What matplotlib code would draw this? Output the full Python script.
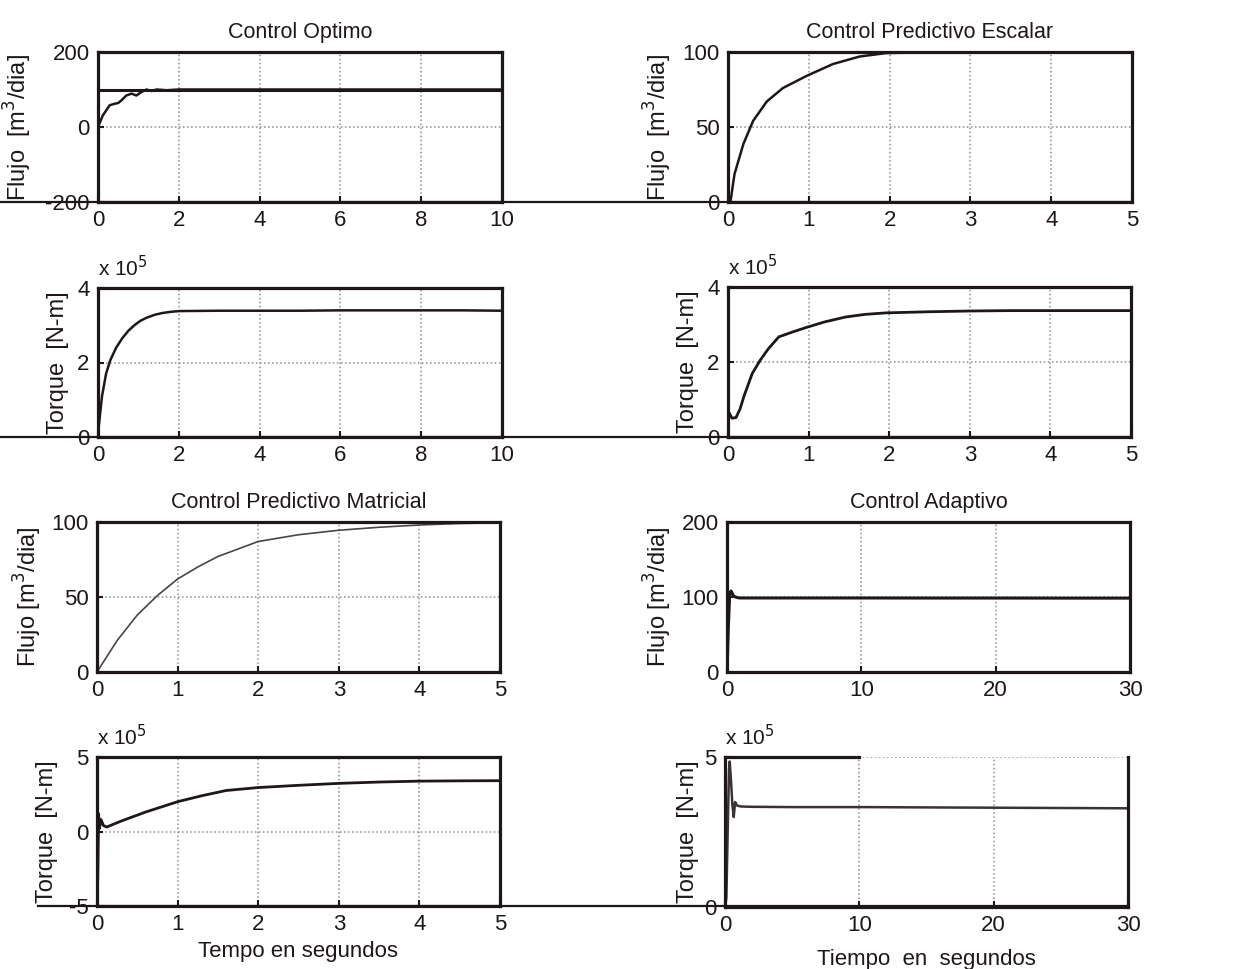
import matplotlib
matplotlib.use("Agg")
import matplotlib.pyplot as plt
from matplotlib.lines import Line2D

plt.rcParams["font.family"] = ["Liberation Sans", "DejaVu Sans"]

INK = "#1e1719"

# Control Optimo - flujo
t_opt_f = [0, 0.12, 0.29, 0.41, 0.5, 0.58, 0.7, 0.83, 0.95, 1.07, 1.2, 1.32, 1.45, 1.7, 2, 3, 4, 5, 6, 7, 8, 9, 10]
y_opt_f = [0, 31, 58, 62, 64, 71, 84, 89, 84, 93, 100, 96, 100, 98, 100, 100, 100, 100, 100, 100, 100, 100, 100]
ref_opt = [100, 100]
# Control Optimo - torque (x 10^5)
t_opt_t = [0, 0.05, 0.1, 0.2, 0.3, 0.45, 0.6, 0.75, 0.9, 1.05, 1.2, 1.4, 1.6, 1.8, 2, 3, 4, 5, 6, 7, 8, 9, 10]
y_opt_t = [0.1, 0.6, 1.1, 1.7, 2.05, 2.4, 2.65, 2.85, 3.0, 3.12, 3.2, 3.28, 3.33, 3.36, 3.38, 3.39, 3.39, 3.39, 3.4, 3.4, 3.4, 3.4, 3.39]

# Control Predictivo Escalar
t_esc_f = [0.03, 0.08, 0.19, 0.31, 0.48, 0.68, 0.97, 1.3, 1.63, 1.96, 2.5, 3, 4, 5]
y_esc_f = [0, 18.5, 38.6, 54, 67, 76, 84, 92, 97, 99.3, 99.8, 100, 100, 100]
t_esc_t = [0, 0.05, 0.1, 0.15, 0.2, 0.3, 0.4, 0.5, 0.63, 0.8, 0.97, 1.2, 1.46, 1.7, 1.96, 2.5, 3, 3.5, 4, 4.5, 5]
y_esc_t = [0.7, 0.5, 0.52, 0.75, 1.1, 1.69, 2.05, 2.35, 2.67, 2.8, 2.92, 3.07, 3.2, 3.27, 3.31, 3.34, 3.36, 3.37, 3.37, 3.37, 3.37]

# Control Predictivo Matricial
t_mat_f = [0, 0.25, 0.5, 0.75, 1, 1.25, 1.5, 1.75, 2, 2.5, 3, 3.5, 4, 4.5, 5]
y_mat_f = [0, 21, 38, 51, 62, 70, 77, 82, 87, 91.5, 94.5, 96.5, 98, 99, 99.5]
t_mat_t = [0, 0.01, 0.02, 0.03, 0.05, 0.08, 0.12, 0.3, 0.6, 1, 1.3, 1.6, 2, 2.5, 3, 3.5, 4, 4.5, 5]
y_mat_t = [-5, -3, 1.2, 0.2, 0.8, 0.4, 0.3, 0.7, 1.3, 2.0, 2.4, 2.75, 2.95, 3.1, 3.23, 3.32, 3.38, 3.4, 3.41]

# Control Adaptivo
t_ada_f = [0, 0.1, 0.2, 0.3, 0.5, 0.8, 1, 2, 5, 10, 15, 20, 25, 30]
y_ada_f = [0, 60, 104, 108, 101, 99, 98.7, 98.7, 98.7, 98.7, 98.6, 98.6, 98.5, 98.5]
t_ada_t = [0, 0.1, 0.2, 0.3, 0.35, 0.45, 0.55, 0.65, 0.75, 0.9, 1.2, 2, 5, 10, 15, 20, 25, 30]
y_ada_t = [0, 0.3, 2.5, 4.6, 4.85, 4.2, 3.4, 3.0, 3.5, 3.38, 3.35, 3.34, 3.33, 3.33, 3.32, 3.31, 3.3, 3.29]

fig = plt.figure(figsize=(12.41, 9.69), dpi=100)

W, H = 1241, 969


def make_ax(x0, x1, ytop, ybot):
    return fig.add_axes([x0 / W, 1 - ybot / H, (x1 - x0) / W, (ybot - ytop) / H])


def style(ax, xlim, xticks, ylim, yticks, ylabel, ylab_px, sci=False):
    ax.set_xlim(xlim)
    ax.set_ylim(ylim)
    ax.set_xticks(xticks)
    ax.set_yticks(yticks)
    ax.set_xticklabels([f"{v:g}" for v in xticks])
    ax.set_yticklabels([f"{v:g}" for v in yticks])
    ax.grid(True, linestyle=":", color="#8c8c8c", linewidth=1.1)
    ax.tick_params(direction="in", length=4, width=1.5, colors=INK,
                   labelsize=16, pad=6)
    for s in ax.spines.values():
        s.set_linewidth(2.3)
        s.set_color(INK)
    ax.set_ylabel(ylabel, fontsize=17, color=INK)
    # right edge of the rotated label, in figure pixels
    x0 = ax.get_position().x0 * W
    w = ax.get_position().width * W
    ax.yaxis.set_label_coords((ylab_px - x0) / w, 0.5)
    if sci:
        ax.text(0.0, 1.05, r"x 10$^5$", transform=ax.transAxes,
                fontsize=15, color=INK, ha="left", va="bottom")


flujo = r"Flujo  [m$^3$/dia]"
flujo2 = r"Flujo [m$^3$/dia]"
torque = "Torque  [N-m]"
title_kw = dict(fontsize=15.5, color=INK, pad=10)

# Row 1
ax1 = make_ax(98, 502, 52, 202)
ax1.plot([0, 10], ref_opt, color=INK, lw=2.2)
ax1.plot(t_opt_f, y_opt_f, color=INK, lw=1.8)
style(ax1, (0, 10), [0, 2, 4, 6, 8, 10], (-200, 200), [-200, 0, 200], flujo, 34)
ax1.set_title("Control Optimo", **title_kw)

ax2 = make_ax(728, 1132, 52, 202)
ax2.plot(t_esc_f, y_esc_f, color=INK, lw=1.8)
style(ax2, (0, 5), [0, 1, 2, 3, 4, 5], (0, 100), [0, 50, 100], flujo, 674)
ax2.set_title("Control Predictivo Escalar", **title_kw)

# Row 2
ax3 = make_ax(98, 502, 288, 437)
ax3.plot(t_opt_t, y_opt_t, color=INK, lw=1.8)
style(ax3, (0, 10), [0, 2, 4, 6, 8, 10], (0, 4), [0, 2, 4], torque, 69, sci=True)

ax4 = make_ax(728, 1131, 287, 437)
ax4.plot(t_esc_t, y_esc_t, color=INK, lw=2.0)
style(ax4, (0, 5), [0, 1, 2, 3, 4, 5], (0, 4), [0, 2, 4], torque, 699, sci=True)

# Row 3
ax5 = make_ax(97, 500, 522, 672)
ax5.plot(t_mat_f, y_mat_f, color="#4a4446", lw=1.2)
style(ax5, (0, 5), [0, 1, 2, 3, 4, 5], (0, 100), [0, 50, 100], flujo2, 44)
ax5.set_title("Control Predictivo Matricial", **title_kw)

ax6 = make_ax(727, 1130, 522, 672)
ax6.plot(t_ada_f, y_ada_f, color=INK, lw=2.2)
style(ax6, (0, 30), [0, 10, 20, 30], (0, 200), [0, 100, 200], flujo2, 674)
ax6.set_title("Control Adaptivo", **title_kw)

# Row 4
ax7 = make_ax(97, 500, 757, 906)
ax7.plot(t_mat_t, y_mat_t, color=INK, lw=2.0)
style(ax7, (0, 5), [0, 1, 2, 3, 4, 5], (-5, 5), [-5, 0, 5], torque, 58, sci=True)
ax7.set_xlabel("Tempo en segundos", fontsize=16, color=INK, labelpad=4)

ax8 = make_ax(725, 1128, 757, 907)
ax8.plot(t_ada_t, y_ada_t, color="#3a3335", lw=1.8)
style(ax8, (0, 30), [0, 10, 20, 30], (0, 5), [0, 5], torque, 699, sci=True)
ax8.set_xlabel("Tiempo  en  segundos", fontsize=16, color=INK, labelpad=9)
# top border of this panel is only partly visible in the scan
ax8.spines["top"].set_bounds(0, 10)

# long baseline strokes running past the axes (as in the scanned figure)
for y, xa, xb in [(202, 0, 1132), (437, 0, 1131), (906, 38, 1128)]:
    fig.add_artist(Line2D([xa / W, xb / W], [1 - y / H, 1 - y / H],
                          color=INK, lw=1.6, transform=fig.transFigure))

fig.savefig("out.png", dpi=100)
